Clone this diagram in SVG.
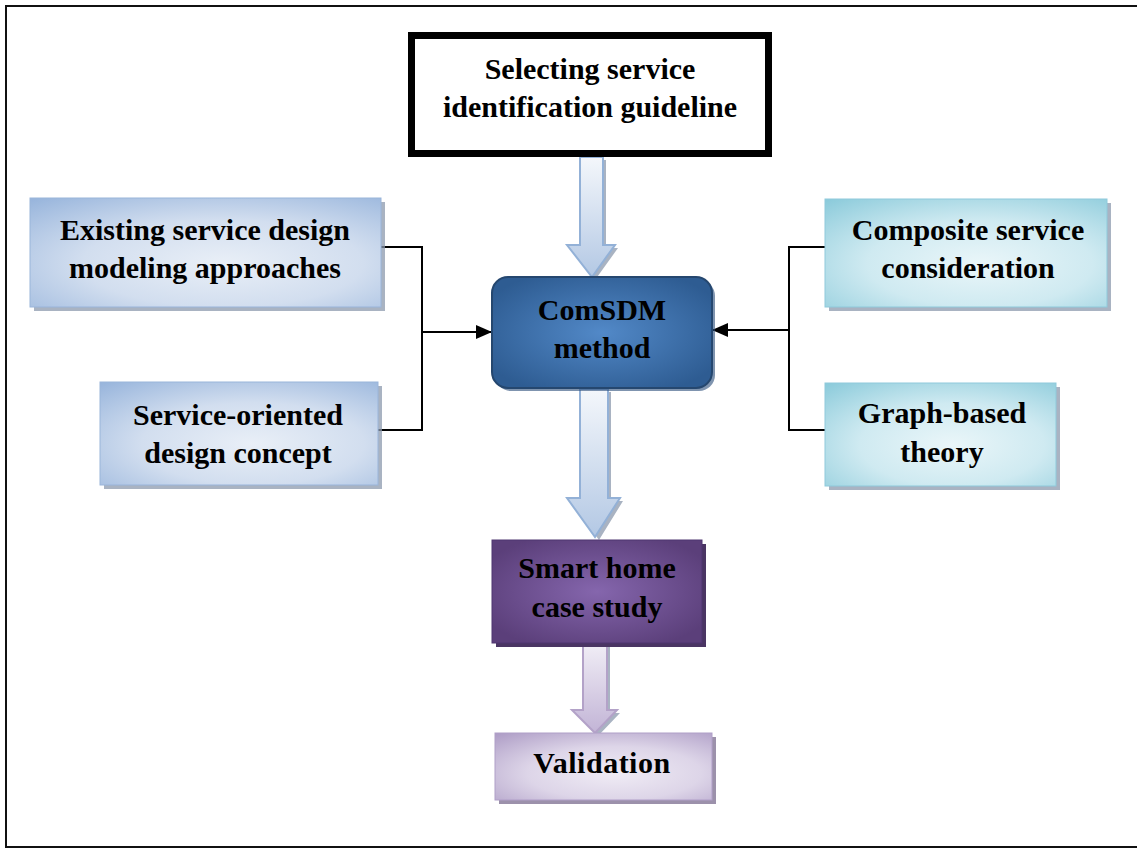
<svg xmlns="http://www.w3.org/2000/svg" width="1137" height="850" viewBox="0 0 1137 850">
<defs>
<style>
.t{font-family:"Liberation Serif","Times New Roman",serif;font-weight:bold;font-size:30px;fill:#000;text-anchor:middle}
.sh{fill:#8c9aae;opacity:0.75}
.conn{fill:none;stroke:#000;stroke-width:2}
</style>
<radialGradient id="gBlue" cx="0.55" cy="0.6" r="0.8">
<stop offset="0" stop-color="#e9eff7"/>
<stop offset="0.5" stop-color="#d2deef"/>
<stop offset="1" stop-color="#98b5dc"/>
</radialGradient>
<radialGradient id="gAqua" cx="0.55" cy="0.6" r="0.8">
<stop offset="0" stop-color="#eaf6f9"/>
<stop offset="0.5" stop-color="#cfeaf1"/>
<stop offset="1" stop-color="#8ccbdb"/>
</radialGradient>
<radialGradient id="gDark" cx="0.5" cy="0.5" r="0.6">
<stop offset="0" stop-color="#5289c8"/>
<stop offset="1" stop-color="#2e5c92"/>
</radialGradient>
<radialGradient id="gPurple" cx="0.5" cy="0.5" r="0.6">
<stop offset="0" stop-color="#8566ad"/>
<stop offset="1" stop-color="#5b3f7a"/>
</radialGradient>
<radialGradient id="gLav" cx="0.55" cy="0.6" r="0.8">
<stop offset="0" stop-color="#f0ecf5"/>
<stop offset="0.5" stop-color="#ddd5e8"/>
<stop offset="1" stop-color="#ae9dc6"/>
</radialGradient>
<linearGradient id="gArrow" x1="0" y1="0" x2="0" y2="1">
<stop offset="0" stop-color="#f4f7fb"/>
<stop offset="1" stop-color="#b3c8e4"/>
</linearGradient>
<linearGradient id="gArrowP" x1="0" y1="0" x2="0" y2="1">
<stop offset="0" stop-color="#f1eef6"/>
<stop offset="1" stop-color="#c2b4d6"/>
</linearGradient>
<marker id="ah" viewBox="0 0 16 14" refX="16" refY="7" markerWidth="16" markerHeight="14" markerUnits="userSpaceOnUse" orient="auto">
<path d="M0,0 L16,7 L0,14 Z" fill="#000"/>
</marker>
</defs>

<rect x="6" y="6" width="1140" height="841" fill="#fff" stroke="#111" stroke-width="2"/>

<g id="connectors">
<polyline class="conn" points="381,247 422,247 422,430 378,430"/>
<line class="conn" x1="422" y1="332" x2="492" y2="332" marker-end="url(#ah)"/>
<polyline class="conn" points="825,247 789,247 789,430 825,430"/>
<line class="conn" x1="789" y1="330" x2="712" y2="330" marker-end="url(#ah)"/>
<path class="sh" d="M583,160 L606,160 L606,248 L618,248 L595,280 L570,248 L583,248 Z" opacity="0.5"/>
<path d="M580,157 L603,157 L603,245 L615,245 L592,277 L567,245 L580,245 Z" fill="url(#gArrow)" stroke="#93b1d7" stroke-width="2"/>
<path class="sh" d="M583,392 L611,392 L611,501 L623,501 L599,540 L570,501 L583,501 Z" opacity="0.5"/>
<path d="M580,389 L608,389 L608,498 L620,498 L595,537 L567,498 L580,498 Z" fill="url(#gArrow)" stroke="#93b1d7" stroke-width="2"/>
<path class="sh" d="M586,646 L610,646 L610,713 L620,713 L598,736 L575,713 L586,713 Z" opacity="0.5"/>
<path d="M583,643 L607,643 L607,710 L617,710 L595,733 L572,710 L583,710 Z" fill="url(#gArrowP)" stroke="#b3a2c8" stroke-width="2"/>
</g>

<g id="selecting">
<rect x="411.5" y="35.5" width="357" height="118" fill="#fff" stroke="#000" stroke-width="7"/>
<text class="t" x="590" y="79">Selecting service</text>
<text class="t" x="590" y="117">identification guideline</text>
</g>

<g id="existing">
<rect class="sh" x="34" y="202" width="351" height="109"/>
<rect x="30" y="198" width="351" height="109" fill="url(#gBlue)" stroke="#9ab5da" stroke-width="1"/>
<text class="t" x="205" y="240">Existing service design</text>
<text class="t" x="205" y="278">modeling approaches</text>
</g>

<g id="soa">
<rect class="sh" x="104" y="386" width="278" height="103"/>
<rect x="100" y="382" width="278" height="103" fill="url(#gBlue)" stroke="#9ab5da" stroke-width="1"/>
<text class="t" x="238" y="425">Service-oriented</text>
<text class="t" x="238" y="463">design concept</text>
</g>

<g id="comsdm">
<rect x="495" y="280" width="220" height="111" rx="16" fill="#2a4d7a" opacity="0.6"/>
<rect x="492" y="277" width="220" height="111" rx="16" fill="url(#gDark)" stroke="#25476f" stroke-width="2"/>
<text class="t" x="602" y="320">ComSDM</text>
<text class="t" x="602" y="358">method</text>
</g>

<g id="composite">
<rect class="sh" x="829" y="203" width="282" height="108"/>
<rect x="825" y="199" width="282" height="108" fill="url(#gAqua)" stroke="#8fcadb" stroke-width="1"/>
<text class="t" x="968" y="240">Composite service</text>
<text class="t" x="968" y="278">consideration</text>
</g>

<g id="graph">
<rect class="sh" x="829" y="387" width="231" height="103"/>
<rect x="825" y="383" width="231" height="103" fill="url(#gAqua)" stroke="#8fcadb" stroke-width="1"/>
<text class="t" x="942" y="423">Graph-based</text>
<text class="t" x="942" y="462">theory</text>
</g>

<g id="smarthome">
<rect x="496" y="544" width="210" height="103" fill="#4a3563"/>
<rect x="492" y="540" width="210" height="103" fill="url(#gPurple)" stroke="#4f3670" stroke-width="1"/>
<text class="t" x="597" y="578">Smart home</text>
<text class="t" x="597" y="617">case study</text>
</g>

<g id="validation">
<rect x="499" y="737" width="217" height="67" fill="#9c91ab"/>
<rect x="495" y="733" width="217" height="67" fill="url(#gLav)" stroke="#b09fc8" stroke-width="1"/>
<text class="t" x="602" y="773" letter-spacing="0.5">Validation</text>
</g>
</svg>
